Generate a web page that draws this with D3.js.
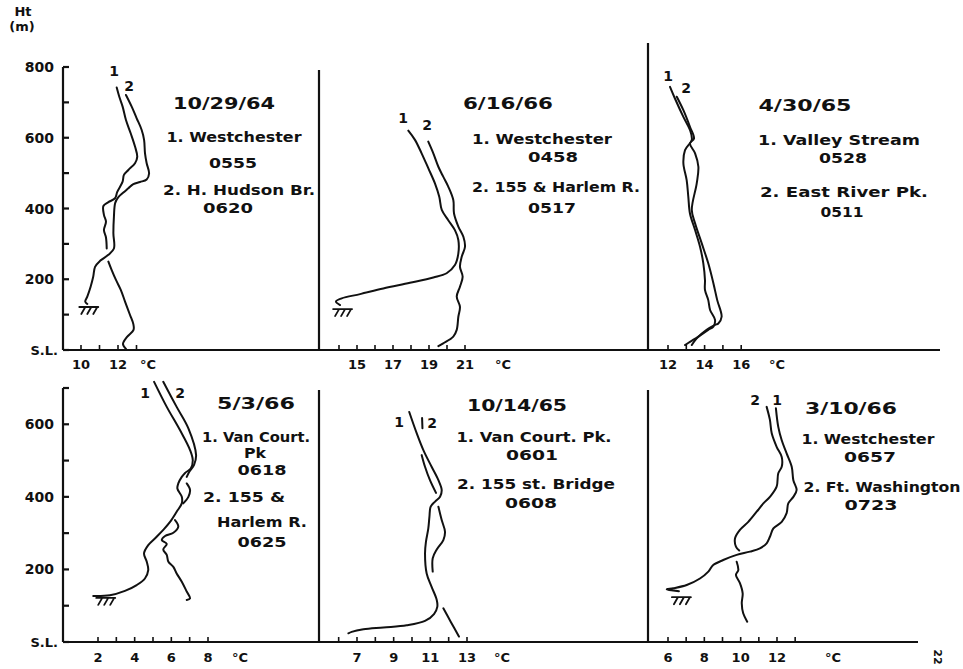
<!DOCTYPE html>
<html>
<head>
<meta charset="utf-8">
<title>Temperature soundings, urban vs rural</title>
<script src="https://d3js.org/d3.v7.min.js"></script>
<style>
  body { margin: 0; background: #fff; }
  svg text { font-family: "DejaVu Sans", sans-serif; font-weight: bold; fill: #111; }
  .ax { stroke: #111; stroke-width: 2.2; fill: none; }
  .curve { stroke: #111; stroke-width: 2; fill: none; stroke-linecap: round; stroke-linejoin: round; }
</style>
</head>
<body>
<svg id="chart" width="963" height="669"></svg>
<script>
// ---- data: [temperature degC, height m], null = break in the trace ----
const p1s1 = [[11.93,742],[12.07,716],[12.25,688],[12.43,650],[12.69,612],[12.92,575],[13.04,546],[12.92,528],
  [12.56,509],[12.32,495],[12.25,476],[11.96,447],[11.84,429],[11.48,418],[11.21,407],[11.24,382],[11.35,363],
  [11.24,339],[11.35,318],[11.39,287], null,
  [11.48,250],[11.66,226],[11.89,198],[12.15,170],[12.38,137],[12.65,99],[12.83,73],[12.84,57],[12.49,37],[12.27,17],[12.43,3]];
const p1s2 = [[12.43,721],[12.74,688],[13.01,655],[13.28,622],[13.41,594],[13.46,556],[13.55,528],[13.68,499],
  [13.55,482],[13.19,475],[12.83,469],[12.56,457],[12.29,445],[12.02,432],[11.85,416],[11.78,377],[11.75,330],
  [11.78,287],[11.48,269],[11.03,252],[10.76,235],[10.66,207],[10.52,179],[10.34,151],[10.23,137],[10.34,130]];

const p2s1 = [[17.85,620],[18.22,594],[18.59,556],[18.96,514],[19.33,471],[19.57,433],[19.71,396],[20.07,367],
  [20.44,339],[20.63,311],[20.63,273],[20.44,240],[19.98,217],[19.24,205],[17.94,190],[16.46,174],[15.17,158],
  [14.15,146],[13.83,137],[14.06,127]];
const p2s2 = [[18.96,589],[19.24,556],[19.52,518],[19.79,490],[20.07,462],[20.35,424],[20.39,386],[20.63,349],
  [20.91,320],[21.0,292],[20.82,264],[20.72,235],[20.87,207],[20.72,179],[20.54,151],[20.72,122],[20.63,94],
  [20.54,57],[20.35,38],[19.79,19],[19.52,11]];

const p3s1 = [[12.11,744],[12.38,711],[12.84,659],[13.2,622],[13.3,594],[12.93,565],[12.84,528],[13.02,480],
  [13.11,433],[13.2,386],[13.48,339],[13.75,292],[13.93,245],[14.02,198],[14.02,170],[14.2,141],[14.3,113],
  [14.57,85],[14.48,66],[14.2,57],[13.66,38],[13.2,23],[12.93,14]];
const p3s2 = [[12.48,716],[12.84,678],[13.2,631],[13.42,598],[13.2,584],[13.48,556],[13.66,518],[13.57,471],
  [13.3,396],[13.48,358],[13.84,302],[14.2,245],[14.48,189],[14.69,141],[14.93,94],[14.75,75],[14.57,71],
  [14.11,57],[13.57,33],[13.3,14]];

const p4s1 = [[5.06,717],[5.75,648],[6.47,584],[7.02,529],[7.17,501],[7.06,478],[6.75,466],[6.57,455],[6.38,437],
  [6.33,423],[6.57,400],[6.57,382],[6.29,359],[5.93,331],[5.56,309],[5.2,290],[4.74,267],[4.51,244],[4.66,221],
  [4.74,198],[4.56,175],[4.11,157],[3.47,141],[2.65,129],[1.74,127]];
const p4s2 = [[5.56,717],[6.29,648],[6.93,589],[7.35,515],[7.24,488],[6.98,469],[6.84,455], null,
  [6.84,437],[7.02,419],[6.93,400],[6.65,382], null,
  [6.2,336],[6.38,318],[6.11,301],[5.66,292],[5.48,281],[5.75,270],[5.56,255],[5.75,240],[5.84,221],[6.11,207],
  [6.29,189],[6.57,166],[6.84,139],[7.02,120],[6.84,116]];

const p5s1 = [[9.85,634],[10.26,575],[10.62,529],[11.07,483],[11.44,446],[11.62,419],[11.53,400],[11.26,387],
  [11.02,373],[10.95,345],[10.89,313],[10.76,276],[10.71,244],[10.8,189],[11.07,152],[11.35,116],[11.38,97],
  [11.2,77],[10.71,58],[9.71,46],[8.44,40],[7.35,35],[6.71,28],[6.53,24]];
const p5s2 = [[10.55,617],[10.57,589], null,
  [10.53,515],[10.71,483],[10.98,446],[11.31,411], null,
  [11.44,373],[11.62,336],[11.8,304],[11.71,281],[11.35,255],[11.13,231],[11.13,194], null,
  [11.71,93],[12.11,56],[12.56,15]];

const p6s1 = [[11.94,644],[12.07,593],[12.26,556],[12.53,520],[12.81,483],[12.9,446],[13.08,419],[12.9,400],
  [12.62,382],[12.53,355],[12.26,331],[11.8,313],[11.61,290],[11.43,272],[11.06,258],[10.51,249],[9.78,240],
  [9.04,226],[8.49,212],[8.22,194],[7.76,175],[7.03,157],[6.29,148],[5.93,145],[6.6,140]];
const p6s2 = [[11.43,648],[11.61,612],[11.71,575],[11.98,538],[12.26,510],[12.26,483],[12.07,465],[11.98,428],
  [11.61,400],[11.25,382],[10.88,359],[10.42,331],[9.96,309],[9.69,286],[9.74,263],[9.92,252], null,
  [9.78,221],[9.87,198],[9.74,185],[9.96,162],[10.11,134],[10.06,107],[10.14,79],[10.36,56]];

// ---- axis ticks and labels ----
const topHeights = [0,100,200,300,400,500,600,700,800];
const botHeights = [0,100,200,300,400,500,600,700];
const topHtLabels = [0,200,400,600,800];
const botHtLabels = [0,200,400,600];

const notes1 = ["10/29/64","1. Westchester","0555","2. H. Hudson Br.","0620"];
const notes2 = ["6/16/66","1. Westchester","0458","2. 155 & Harlem R.","0517"];
const notes3 = ["4/30/65","1. Valley Stream","0528","2. East River Pk.","0511"];
const notes4 = ["5/3/66","1. Van Court.","Pk","0618","2. 155 &","Harlem R.","0625"];
const notes5 = ["10/14/65","1. Van Court. Pk.","0601","2. 155 st. Bridge","0608"];
const notes6 = ["3/10/66","1. Westchester","0657","2. Ft. Washington","0723"];

// ---- layout ----
const rows = [
  { y: d3.scaleLinear().domain([0,800]).range([350,67]), heights: topHeights, labels: topHtLabels,
    axisX: 63, baseEnd: 940, divTop: [70,43], labelY: 364 },
  { y: d3.scaleLinear().domain([0,700]).range([642,388]), heights: botHeights, labels: botHtLabels,
    axisX: 63, baseEnd: 918, divTop: [390,390], labelY: 657 }
];
const dividers = [319, 648];

// hatch: [series index carrying the ground symbol, dx, dy]
const panels = [
  { row:0, dom:[10,12], rng:[81,118], ticks:d3.range(10,14), tl:[10,12], deg:148, s:[p1s1,p1s2],
    hatch:[1,-8,3], c1:[114,71], c2:[129,86], notes:notes1,
    nl:[[224,103,102],[234,137,135],[233,163,48],[239,190,152],[228,208,50]] },
  { row:0, dom:[15,21], rng:[357,465], ticks:d3.range(14,22), tl:[15,17,19,21], deg:503, s:[p2s1,p2s2],
    hatch:[0,-7,4], c1:[403,118], c2:[427,125], notes:notes2,
    nl:[[508,103,90],[542,139,140],[553,157,50],[556,187,168],[552,208,48]] },
  { row:0, dom:[12,16], rng:[668,741.2], ticks:d3.range(12,17), tl:[12,14,16], deg:777, s:[p3s1,p3s2],
    hatch:null, c1:[668,76], c2:[686,88], notes:notes3,
    nl:[[805,105,93],[839,140,162],[843,158,48],[844,192,168],[842,212,43]] },
  { row:1, dom:[2,8], rng:[98,208], ticks:d3.range(2,9), tl:[2,4,6,8], deg:240, s:[p4s1,p4s2],
    hatch:[0,3,2], c1:[145,393], c2:[180,393], notes:notes4,
    nl:[[256,403,78],[256,437,108],[255,453,22],[262,470,49],[244,497,82],[262,522,90],[262,542,49]] },
  { row:1, dom:[7,13], rng:[357,467], ticks:d3.range(6,14), tl:[7,9,11,13], deg:502, s:[p5s1,p5s2],
    hatch:null, c1:[399,422], c2:[432,423], notes:notes5,
    nl:[[517,405,100],[534,437,155],[532,455,52],[536,484,158],[531,503,52]] },
  { row:1, dom:[6,12], rng:[668,777], ticks:d3.range(6,14), tl:[6,8,10,12], deg:833, s:[p6s1,p6s2],
    hatch:[0,-7,6], c1:[777,400], c2:[755,400], notes:notes6,
    nl:[[851,408,92],[868,439,133],[870,457,52],[882,487,157],[871,505,53]] }
];

const svg = d3.select("#chart");

svg.append("text").attr("x", 23).attr("y", 11).attr("text-anchor", "middle")
  .attr("dominant-baseline", "central").style("font-size", "13px").text("Ht");
svg.append("text").attr("x", 22).attr("y", 26).attr("text-anchor", "middle")
  .attr("dominant-baseline", "central").style("font-size", "13px").text("(m)");

rows.forEach(r => {
  const y = r.y;
  const g = svg.append("g");
  // left axis and base line
  g.append("line").attr("class", "ax").attr("x1", r.axisX).attr("x2", r.axisX)
    .attr("y1", y(d3.max(r.heights))).attr("y2", y(0));
  g.append("line").attr("class", "ax").attr("x1", r.axisX).attr("x2", r.baseEnd)
    .attr("y1", y(0)).attr("y2", y(0));
  g.selectAll(".ytick").data(r.heights).join("line").attr("class", "ax")
    .attr("x1", r.axisX).attr("x2", r.axisX + 6).attr("y1", d => y(d)).attr("y2", d => y(d));
  g.selectAll(".ylab").data(r.labels).join("text")
    .attr("x", d => d === 0 ? 58 : 54).attr("y", d => y(d))
    .attr("text-anchor", "end").attr("dominant-baseline", "central")
    .style("font-size", d => d === 0 ? "13px" : "14px")
    .text(d => d === 0 ? "S.L." : d);
  dividers.forEach((dx, i) => {
    g.append("line").attr("class", "ax").attr("x1", dx).attr("x2", dx)
      .attr("y1", r.divTop[i]).attr("y2", y(0));
  });
});

panels.forEach(p => {
  const r = rows[p.row];
  const x = d3.scaleLinear().domain(p.dom).range(p.rng);
  const y = r.y;
  const g = svg.append("g");
  const base = y(0);

  g.selectAll(".xt").data(p.ticks).join("line").attr("class", "ax").style("stroke-width", 1.6)
    .attr("x1", d => x(d)).attr("x2", d => x(d)).attr("y1", base).attr("y2", base - 5);
  g.selectAll(".xl").data(p.tl).join("text")
    .attr("x", d => x(d)).attr("y", r.labelY).attr("text-anchor", "middle")
    .attr("dominant-baseline", "central").style("font-size", "13px").text(d => d);
  g.append("text").attr("x", p.deg).attr("y", r.labelY).attr("text-anchor", "middle")
    .attr("dominant-baseline", "central").style("font-size", "13px").text("\u00B0C");

  const line = d3.line().defined(d => d).x(d => x(d[0])).y(d => y(d[1]))
    .curve(d3.curveCatmullRom.alpha(0.5));
  p.s.forEach(s => g.append("path").attr("class", "curve").attr("d", line(s)));

  if (p.hatch) {
    const s = p.s[p.hatch[0]];
    const end = s[s.length - 1];
    const hx = x(end[0]) + p.hatch[1], hy = y(end[1]) + p.hatch[2];
    g.append("path").attr("class", "curve").style("stroke-width", 1.8)
      .attr("d", `M${hx},${hy}h19M${hx + 6},${hy}l-4,7M${hx + 12},${hy}l-4,7M${hx + 18},${hy}l-4,7`);
  }

  g.append("text").attr("x", p.c1[0]).attr("y", p.c1[1]).attr("text-anchor", "middle")
    .attr("dominant-baseline", "central").style("font-size", "14px").text("1");
  g.append("text").attr("x", p.c2[0]).attr("y", p.c2[1]).attr("text-anchor", "middle")
    .attr("dominant-baseline", "central").style("font-size", "14px").text("2");

  g.selectAll(".note").data(p.notes).join("text")
    .attr("x", (d, i) => p.nl[i][0]).attr("y", (d, i) => p.nl[i][1])
    .attr("text-anchor", "middle").attr("dominant-baseline", "central")
    .style("font-size", (d, i) => i === 0 ? "16px" : "14px")
    .attr("textLength", (d, i) => p.nl[i][2]).attr("lengthAdjust", "spacingAndGlyphs")
    .text(d => d);
});

// page number, printed sideways
svg.append("text").attr("transform", "translate(937,657) rotate(90)")
  .attr("text-anchor", "middle").attr("dominant-baseline", "central")
  .style("font-size", "11px").text("22");
</script>
</body>
</html>
